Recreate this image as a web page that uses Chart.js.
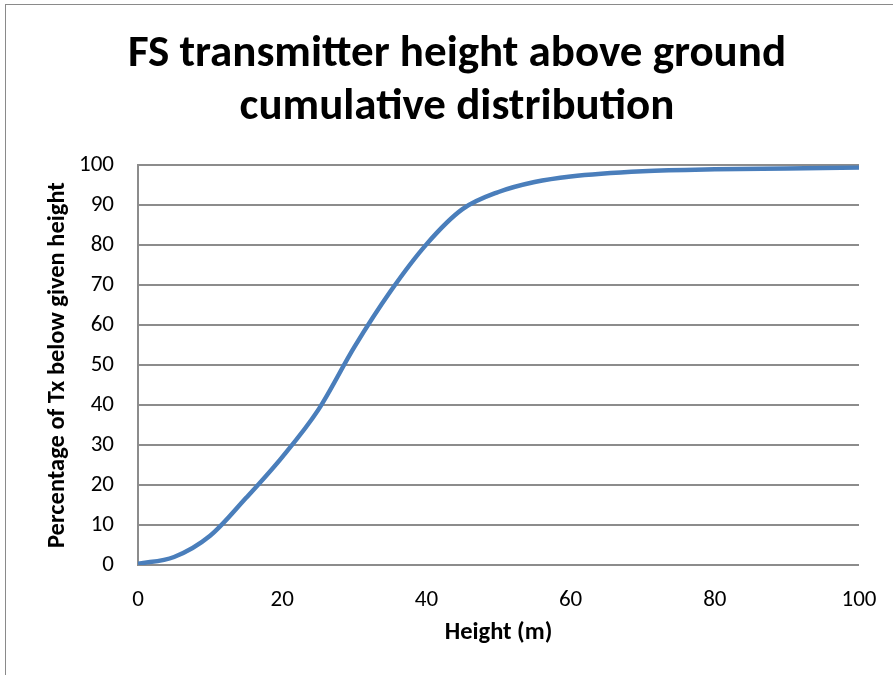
<!DOCTYPE html>
<html>
<head>
<meta charset="utf-8">
<script src="https://cdn.jsdelivr.net/npm/chart.js@4/dist/chart.umd.min.js"></script>
<style>
  html, body { margin: 0; padding: 0; background: #fff; overflow: hidden; }
  #frame { position: absolute; left: 5px; top: 4px; width: 900px; height: 700px;
           border-left: 1px solid #8a8a8a; border-top: 1px solid #8a8a8a; }
  #wrap { position: absolute; left: 0; top: 0; width: 893px; height: 675px; }
</style>
</head>
<body>
<div id="frame"></div>
<div id="wrap"><canvas id="c" width="893" height="675"></canvas></div>
<script>
// Transmitter height (m) and cumulative share of transmitters below it (%)
const heights = [0, 5, 10, 15, 20, 25, 30, 35, 40, 45, 50, 55, 60, 70, 80, 90, 100];
const percentBelow = [0.3, 2, 7.3, 16.8, 27, 38.8, 54.5, 68.4, 80.2, 89, 93.3, 95.8, 97.2, 98.5, 99, 99.2, 99.4];
const xTicks = [0, 20, 40, 60, 80, 100];
const yTicks = [0, 10, 20, 30, 40, 50, 60, 70, 80, 90, 100];

const FONT = "Carlito, Lato, 'Liberation Sans', sans-serif";
const points = heights.map((h, i) => ({ x: h, y: percentBelow[i] }));

new Chart(document.getElementById('c'), {
  type: 'scatter',
  data: {
    datasets: [{
      data: points,
      showLine: true,
      borderColor: '#4a7ebb',
      borderWidth: 4.5,
      pointRadius: 0,
      cubicInterpolationMode: 'monotone',
      fill: false
    }]
  },
  options: {
    responsive: false,
    animation: false,
    layout: { padding: { left: 55, right: 34, top: 28, bottom: 0 } },
    plugins: {
      legend: { display: false },
      tooltip: { enabled: false },
      title: {
        display: true,
        text: ['FS transmitter height above ground', 'cumulative distribution'],
        color: '#000',
        font: { family: FONT, size: 45, weight: 'bold', lineHeight: 1.18 },
        padding: { top: 0, bottom: 31 }
      }
    },
    scales: {
      x: {
        type: 'linear',
        min: 0, max: 100,
        afterBuildTicks: s => { s.ticks = xTicks.map(v => ({ value: v })); },
        afterFit: s => { s.height = 110; s.paddingLeft = 0; s.paddingRight = 0; },
        grid: { display: false, drawTicks: false },
        border: { display: false },
        ticks: { color: '#000', font: { family: FONT, size: 23 }, padding: 21 },
        title: { display: true, text: 'Height (m)', color: '#000',
                 font: { family: FONT, size: 24.5, weight: 'bold' }, padding: { top: 0, bottom: 27 } }
      },
      y: {
        type: 'linear',
        min: 0, max: 100,
        afterBuildTicks: s => { s.ticks = yTicks.map(v => ({ value: v })); },
        afterFit: s => { s.width = 83; },
        grid: { color: '#8c8c8c', lineWidth: 2, drawTicks: false },
        border: { display: true, color: '#8c8c8c', width: 2 },
        ticks: { color: '#000', font: { family: FONT, size: 23 }, padding: 24 },
        title: { display: true, text: 'Percentage of Tx below given height', color: '#000',
                 font: { family: FONT, size: 24.5, weight: 'bold' }, padding: { top: -12, bottom: 0 } }
      }
    }
  }
});
</script>
</body>
</html>
